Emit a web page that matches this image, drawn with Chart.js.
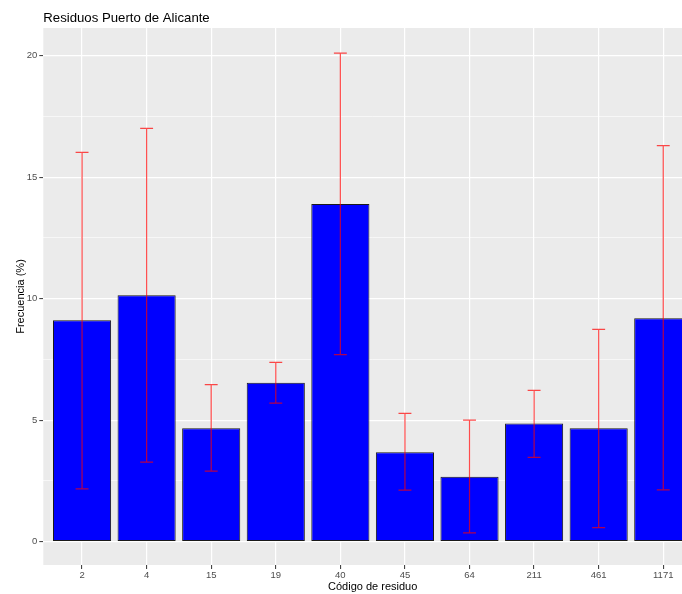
<!DOCTYPE html>
<html>
<head>
<meta charset="utf-8">
<script src="https://cdn.jsdelivr.net/npm/chart.js@4"></script>
<style>
  html, body { margin: 0; padding: 0; background: #fff; overflow: hidden; }
  #wrap { width: 682px; height: 594px; overflow: hidden; }
</style>
</head>
<body>
<div id="wrap"><canvas id="chart" width="702" height="594"></canvas></div>
<script>
// residue codes and frequency (%) with error bar limits
const codes = ["2", "4", "15", "19", "40", "45", "64", "211", "461", "1171"];
const freq = [9.11, 10.14, 4.67, 6.54, 13.90, 3.68, 2.67, 4.86, 4.67, 9.19];
const lower = [2.17, 3.27, 2.90, 5.70, 7.70, 2.12, 0.36, 3.47, 0.58, 2.13];
const upper = [16.02, 17.01, 6.46, 7.38, 20.11, 5.28, 5.00, 6.23, 8.74, 16.30];
const yTicks = [0, 2.5, 5, 7.5, 10, 12.5, 15, 17.5, 20];

const font = "'Liberation Sans', Arial, sans-serif";

const panelBg = {
    id: "panelBg",
    beforeDraw(chart) {
        const {ctx, chartArea: a} = chart;
        ctx.save();
        ctx.fillStyle = "#EBEBEB";
        ctx.fillRect(a.left, a.top, a.right - a.left, a.bottom - a.top);
        ctx.restore();
    }
};

const errorBars = {
    id: "errorBars",
    afterDatasetsDraw(chart) {
        const {ctx, scales: {x, y}} = chart;
        ctx.save();
        ctx.strokeStyle = "rgba(255, 0, 0, 0.7)";
        ctx.lineWidth = 1.2;
        codes.forEach((c, i) => {
            const px = x.getPixelForValue(i);
            const x0 = x.getPixelForValue(i - 0.1);
            const x1 = x.getPixelForValue(i + 0.1);
            const yl = y.getPixelForValue(lower[i]);
            const yu = y.getPixelForValue(upper[i]);
            ctx.beginPath();
            ctx.moveTo(px, yl); ctx.lineTo(px, yu);
            ctx.moveTo(x0, yl); ctx.lineTo(x1, yl);
            ctx.moveTo(x0, yu); ctx.lineTo(x1, yu);
            ctx.stroke();
        });
        ctx.restore();
    }
};

const plotTitle = {
    id: "plotTitle",
    afterDraw(chart) {
        const {ctx, chartArea: a} = chart;
        ctx.save();
        ctx.font = "13.2px " + font;
        ctx.fillStyle = "#000";
        ctx.textBaseline = "alphabetic";
        ctx.fillText("Residuos Puerto de Alicante", a.left, 21.5);
        ctx.restore();
    }
};

new Chart(document.getElementById("chart"), {
    type: "bar",
    data: {
        datasets: [{
            label: "Frecuencia",
            data: freq.map((v, i) => ({x: i, y: v})),
            backgroundColor: "#0000FF",
            borderColor: "#1a1a1a",
            borderWidth: 1,
            borderSkipped: false,
            barPercentage: 0.9,
            categoryPercentage: 1.0
        }]
    },
    options: {
        responsive: false,
        animation: false,
        devicePixelRatio: 1,
        layout: { padding: { top: 28, left: 0, right: 0, bottom: 0 } },
        plugins: {
            legend: { display: false },
            tooltip: { enabled: false },
            title: { display: false }
        },
        scales: {
            x: {
                type: "linear",
                min: -0.6,
                max: 9.6,
                offset: false,
                afterBuildTicks: (s) => { s.ticks = codes.map((c, i) => ({value: i})); },
                afterFit: (s) => { s.height = 29; },
                grid: {
                    offset: false,
                    color: "#FFFFFF",
                    lineWidth: 1.2,
                    drawTicks: true,
                    tickLength: 4,
                    tickColor: "#333333",
                    tickWidth: 1
                },
                border: { display: false },
                ticks: {
                    autoSkip: false,
                    maxRotation: 0,
                    padding: 1,
                    color: "#4D4D4D",
                    font: { family: font, size: 9.5 },
                    callback: (v) => codes[v]
                },
                title: {
                    display: true,
                    text: "Código de residuo",
                    color: "#000",
                    font: { family: font, size: 11 },
                    padding: 0
                }
            },
            y: {
                min: -0.96,
                max: 21.14,
                afterBuildTicks: (s) => { s.ticks = yTicks.map(v => ({value: v})); },
                afterFit: (s) => { s.width = 43.3; },
                grid: {
                    color: "#FFFFFF",
                    lineWidth: (c) => (c.tick && c.tick.value % 5 === 0) ? 1.2 : 0.6,
                    tickLength: 4,
                    tickColor: (c) => (c.tick && c.tick.value % 5 === 0) ? "#333333" : "rgba(0,0,0,0)",
                    tickWidth: 1
                },
                border: { display: false },
                ticks: {
                    padding: 2,
                    color: "#4D4D4D",
                    font: { family: font, size: 9.5 },
                    callback: (v) => (v % 5 === 0 ? v : "")
                },
                title: {
                    display: true,
                    text: "Frecuencia (%)",
                    color: "#000",
                    font: { family: font, size: 11 },
                    padding: { top: 14.5, bottom: 0 }
                }
            }
        }
    },
    plugins: [panelBg, errorBars, plotTitle]
});
</script>
</body>
</html>
